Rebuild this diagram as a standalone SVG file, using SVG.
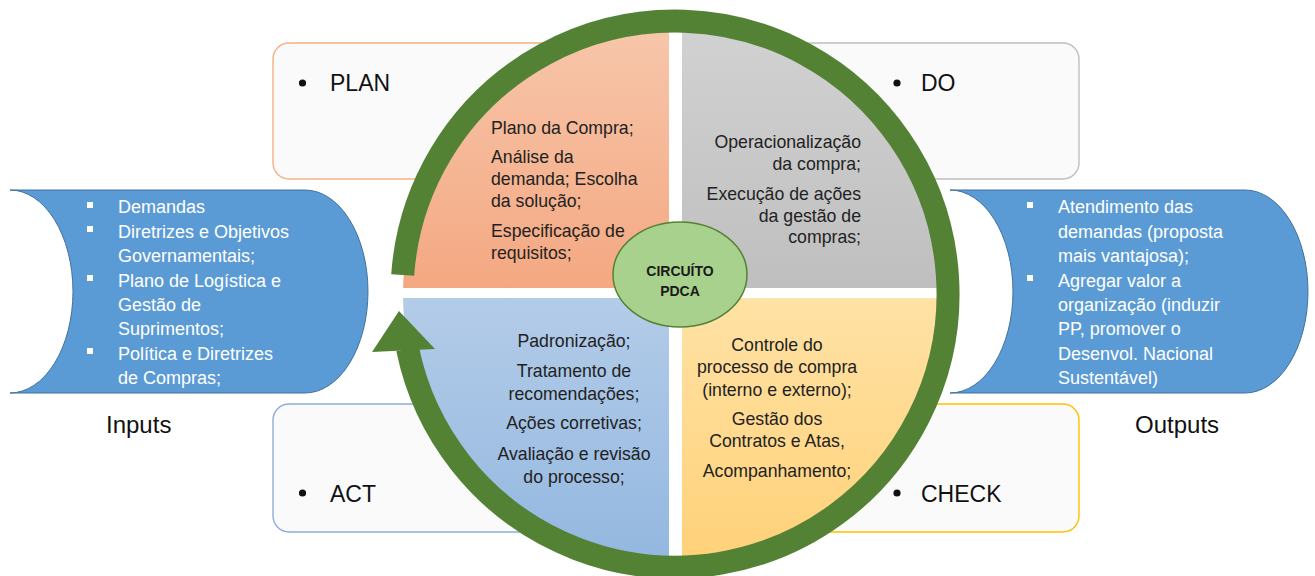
<svg xmlns="http://www.w3.org/2000/svg" width="1315" height="576" viewBox="0 0 1315 576">
<defs>
<linearGradient id="gPlan" x1="0" y1="0" x2="0" y2="1"><stop offset="0" stop-color="#F7C7AB"/><stop offset="1" stop-color="#F4A882"/></linearGradient>
<linearGradient id="gDo" x1="0" y1="0" x2="0" y2="1"><stop offset="0" stop-color="#D2D2D2"/><stop offset="1" stop-color="#BFBFBF"/></linearGradient>
<linearGradient id="gAct" x1="0" y1="0" x2="0" y2="1"><stop offset="0" stop-color="#B3CCE8"/><stop offset="1" stop-color="#93B7E0"/></linearGradient>
<linearGradient id="gCheck" x1="0" y1="0" x2="0" y2="1"><stop offset="0" stop-color="#FFE2A5"/><stop offset="1" stop-color="#FFD178"/></linearGradient>
<clipPath id="circ"><circle cx="675" cy="294" r="272"/></clipPath>
<style>
.box{fill:#FAFAFA;stroke-width:1.4}
.lbl{font-family:"Liberation Sans",Arial,sans-serif;font-size:23px;fill:#111}
.blob{fill:#5B9BD5;stroke:#41719C;stroke-width:1}
.wt{font-family:"Liberation Sans",Arial,sans-serif;font-size:18px;fill:#FFFFFF}
.qt{font-family:"Liberation Sans",Arial,sans-serif;font-size:17.7px;fill:#222}
.io{font-family:"Liberation Sans",Arial,sans-serif;font-size:24px;fill:#111}
.sq{fill:#FFFFFF}
</style>
</defs>

<g id="box-plan"><rect class="box" x="273" y="43" width="392" height="136" rx="16" stroke="#F4B183"/>
<circle cx="302.5" cy="83" r="3.6" fill="#111"/><text class="lbl" x="330" y="91">PLAN</text></g>
<g id="box-do"><rect class="box" x="686" y="43" width="393" height="136" rx="16" stroke="#BFBFBF"/>
<circle cx="897" cy="83" r="3.6" fill="#111"/><text class="lbl" x="921" y="91">DO</text></g>
<g id="box-act"><rect class="box" x="273" y="404" width="392" height="128" rx="16" stroke="#8FAADC"/>
<circle cx="302.5" cy="493" r="3.6" fill="#111"/><text class="lbl" x="330" y="502">ACT</text></g>
<g id="box-check"><rect class="box" x="686" y="404" width="393" height="128" rx="16" stroke="#FFC000"/>
<circle cx="897" cy="493" r="3.6" fill="#111"/><text class="lbl" x="921" y="502">CHECK</text></g>

<g id="inputs">
<path class="blob" d="M10,190 H305 A63,101.5 0 0 1 305,393 H10 A63,101.5 0 0 0 10,190 Z"/>
<rect class="sq" x="87" y="202" width="6" height="6"/>
<rect class="sq" x="87" y="226" width="6" height="6"/>
<rect class="sq" x="87" y="275" width="6" height="6"/>
<rect class="sq" x="87" y="348" width="6" height="6"/>
<text class="wt" x="118" y="213">Demandas</text>
<text class="wt" x="118" y="237.5">Diretrizes e Objetivos</text>
<text class="wt" x="118" y="262">Governamentais;</text>
<text class="wt" x="118" y="286.5">Plano de Logística e</text>
<text class="wt" x="118" y="311">Gestão de</text>
<text class="wt" x="118" y="335">Suprimentos;</text>
<text class="wt" x="118" y="359.5">Política e Diretrizes</text>
<text class="wt" x="118" y="384">de Compras;</text>
<text class="io" x="106" y="433">Inputs</text>
</g>

<g id="outputs">
<path class="blob" d="M950,190 H1245 A63,101.5 0 0 1 1245,393 H950 A63,101.5 0 0 0 950,190 Z"/>
<rect class="sq" x="1027" y="202" width="6" height="6"/>
<rect class="sq" x="1027" y="275" width="6" height="6"/>
<text class="wt" x="1058" y="213">Atendimento das</text>
<text class="wt" x="1058" y="237.5">demandas (proposta</text>
<text class="wt" x="1058" y="262">mais vantajosa);</text>
<text class="wt" x="1058" y="286.5">Agregar valor a</text>
<text class="wt" x="1058" y="311">organização (induzir</text>
<text class="wt" x="1058" y="335">PP, promover o</text>
<text class="wt" x="1058" y="359.5">Desenvol. Nacional</text>
<text class="wt" x="1058" y="384">Sustentável)</text>
<text class="io" x="1135" y="433">Outputs</text>
</g>

<g id="quad-plan">
<rect x="401" y="20" width="268" height="268" fill="url(#gPlan)" clip-path="url(#circ)"/>
<text class="qt" x="491" y="134">Plano da Compra;</text>
<text class="qt" x="491" y="163">Análise da</text>
<text class="qt" x="491" y="185">demanda; Escolha</text>
<text class="qt" x="491" y="207">da solução;</text>
<text class="qt" x="491" y="237">Especificação de</text>
<text class="qt" x="491" y="259">requisitos;</text>
</g>
<g id="quad-do">
<rect x="682" y="20" width="268" height="268" fill="url(#gDo)" clip-path="url(#circ)"/>
<g text-anchor="end">
<text class="qt" x="861" y="148">Operacionalização</text>
<text class="qt" x="861" y="170">da compra;</text>
<text class="qt" x="861" y="200">Execução de ações</text>
<text class="qt" x="861" y="222">da gestão de</text>
<text class="qt" x="861" y="243">compras;</text>
</g>
</g>
<g id="quad-act">
<rect x="401" y="298" width="268" height="268" fill="url(#gAct)" clip-path="url(#circ)"/>
<g text-anchor="middle">
<text class="qt" x="574" y="347">Padronização;</text>
<text class="qt" x="574" y="377">Tratamento de</text>
<text class="qt" x="574" y="400">recomendações;</text>
<text class="qt" x="574" y="429">Ações corretivas;</text>
<text class="qt" x="574" y="460">Avaliação e revisão</text>
<text class="qt" x="574" y="483">do processo;</text>
</g>
</g>
<g id="quad-check">
<rect x="682" y="298" width="268" height="268" fill="url(#gCheck)" clip-path="url(#circ)"/>
<g text-anchor="middle">
<text class="qt" x="777" y="351">Controle do</text>
<text class="qt" x="777" y="373">processo de compra</text>
<text class="qt" x="777" y="396">(interno e externo);</text>
<text class="qt" x="777" y="425">Gestão dos</text>
<text class="qt" x="777" y="447">Contratos e Atas,</text>
<text class="qt" x="777" y="477">Acompanhamento;</text>
</g>
</g>

<g id="connectors">
<path d="M402.7,275 A273,273 0 1 1 407.6,348.9" fill="none" stroke="#548235" stroke-width="23"/>
<polygon points="372,352 399,311 435,349" fill="#548235"/>
</g>

<g id="center">
<ellipse cx="680" cy="274.5" rx="67" ry="52.5" fill="#A9D18E" stroke="#548235" stroke-width="1.5"/>
<g text-anchor="middle" font-family="Liberation Sans, Arial, sans-serif" font-weight="bold" font-size="14" fill="#1a1a1a">
<text x="680" y="276">CIRCUÍTO</text>
<text x="680" y="296">PDCA</text>
</g>
</g>
</svg>
